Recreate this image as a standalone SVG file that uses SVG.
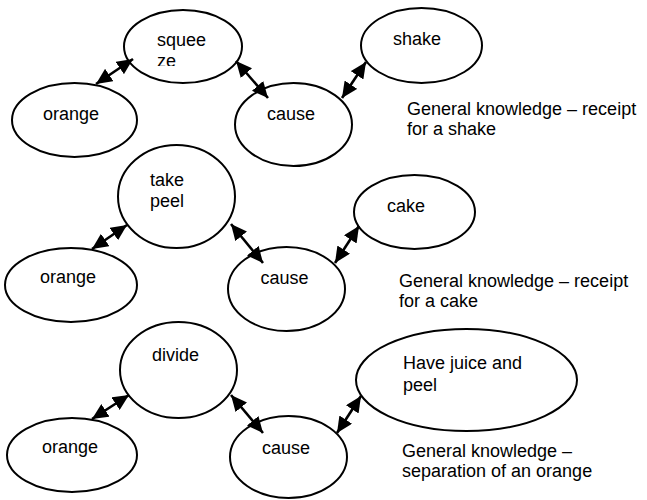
<svg xmlns="http://www.w3.org/2000/svg" width="647" height="500" viewBox="0 0 647 500">
  <style>
    .node ellipse { fill: #fff; stroke: #000; stroke-width: 2; }
    text { font-family: "Liberation Sans", Arial, sans-serif; font-size: 18px; fill: #000; }
    .link { stroke: #000; stroke-width: 2.6; fill: none; marker-start: url(#head); marker-end: url(#head); }
  </style>
  <defs>
    <marker id="head" viewBox="0 0 16 15" refX="16" refY="7.5" markerWidth="16" markerHeight="15" markerUnits="userSpaceOnUse" orient="auto-start-reverse">
      <path d="M0,0 L16,7.5 L0,15 Z" fill="#000"/>
    </marker>
    <clipPath id="squeeze-clip">
      <rect x="120" y="8" width="130" height="58"/>
    </clipPath>
  </defs>

  <!-- row 1: shake -->
  <g id="squeeze" class="node">
    <ellipse cx="183" cy="46.5" rx="59" ry="36.5"/>
    <g clip-path="url(#squeeze-clip)">
      <text x="157" y="46">squee</text>
      <text x="157" y="66.5">ze</text>
    </g>
  </g>
  <g id="orange1" class="node">
    <ellipse cx="74.5" cy="120" rx="62.5" ry="37"/>
    <text x="43" y="120">orange</text>
  </g>
  <g id="cause1" class="node">
    <ellipse cx="293.5" cy="124.5" rx="58.5" ry="41.5"/>
    <text x="267" y="120">cause</text>
  </g>
  <g id="shake" class="node">
    <ellipse cx="421.5" cy="45.5" rx="60.5" ry="37.5"/>
    <text x="393" y="45">shake</text>
  </g>
  <g id="note1">
    <text x="407" y="114.5">General knowledge – receipt</text>
    <text x="407" y="135">for a shake</text>
  </g>

  <!-- row 2: cake -->
  <g id="takepeel" class="node">
    <ellipse cx="176.5" cy="196.5" rx="58.5" ry="51.5"/>
    <text x="150" y="185.5">take</text>
    <text x="150" y="206.5">peel</text>
  </g>
  <g id="orange2" class="node">
    <ellipse cx="71" cy="285" rx="66" ry="37"/>
    <text x="40" y="283">orange</text>
  </g>
  <g id="cause2" class="node">
    <ellipse cx="286.5" cy="289" rx="58.5" ry="42"/>
    <text x="260.5" y="284">cause</text>
  </g>
  <g id="cake" class="node">
    <ellipse cx="414.5" cy="212" rx="60.5" ry="37"/>
    <text x="387" y="212">cake</text>
  </g>
  <g id="note2">
    <text x="399" y="287">General knowledge – receipt</text>
    <text x="399" y="307">for a cake</text>
  </g>

  <!-- row 3: separation -->
  <g id="divide" class="node">
    <ellipse cx="178.5" cy="370" rx="58.5" ry="48"/>
    <text x="152" y="361">divide</text>
  </g>
  <g id="orange3" class="node">
    <ellipse cx="72" cy="455" rx="65" ry="37"/>
    <text x="42" y="453">orange</text>
  </g>
  <g id="cause3" class="node">
    <ellipse cx="288.5" cy="457" rx="58.5" ry="41"/>
    <text x="262" y="454">cause</text>
  </g>
  <g id="juicepeel" class="node">
    <ellipse cx="466.5" cy="380" rx="110.5" ry="51"/>
    <text x="403" y="369">Have juice and</text>
    <text x="403" y="390.5">peel</text>
  </g>
  <g id="note3">
    <text x="402" y="457">General knowledge –</text>
    <text x="402" y="477">separation of an orange</text>
  </g>

  <!-- double-headed connectors, drawn over the node outlines -->
  <g id="connectors">
    <line class="link" x1="96" y1="84" x2="133" y2="59"/>
    <line class="link" x1="236" y1="61" x2="268" y2="98"/>
    <line class="link" x1="342" y1="98" x2="366" y2="62"/>

    <line class="link" x1="92" y1="249" x2="127" y2="225"/>
    <line class="link" x1="231" y1="224" x2="263" y2="263"/>
    <line class="link" x1="335" y1="263" x2="359" y2="226"/>

    <line class="link" x1="92" y1="419" x2="129" y2="395"/>
    <line class="link" x1="231" y1="395" x2="263" y2="433"/>
    <line class="link" x1="337" y1="433" x2="361" y2="396"/>
  </g>
</svg>
